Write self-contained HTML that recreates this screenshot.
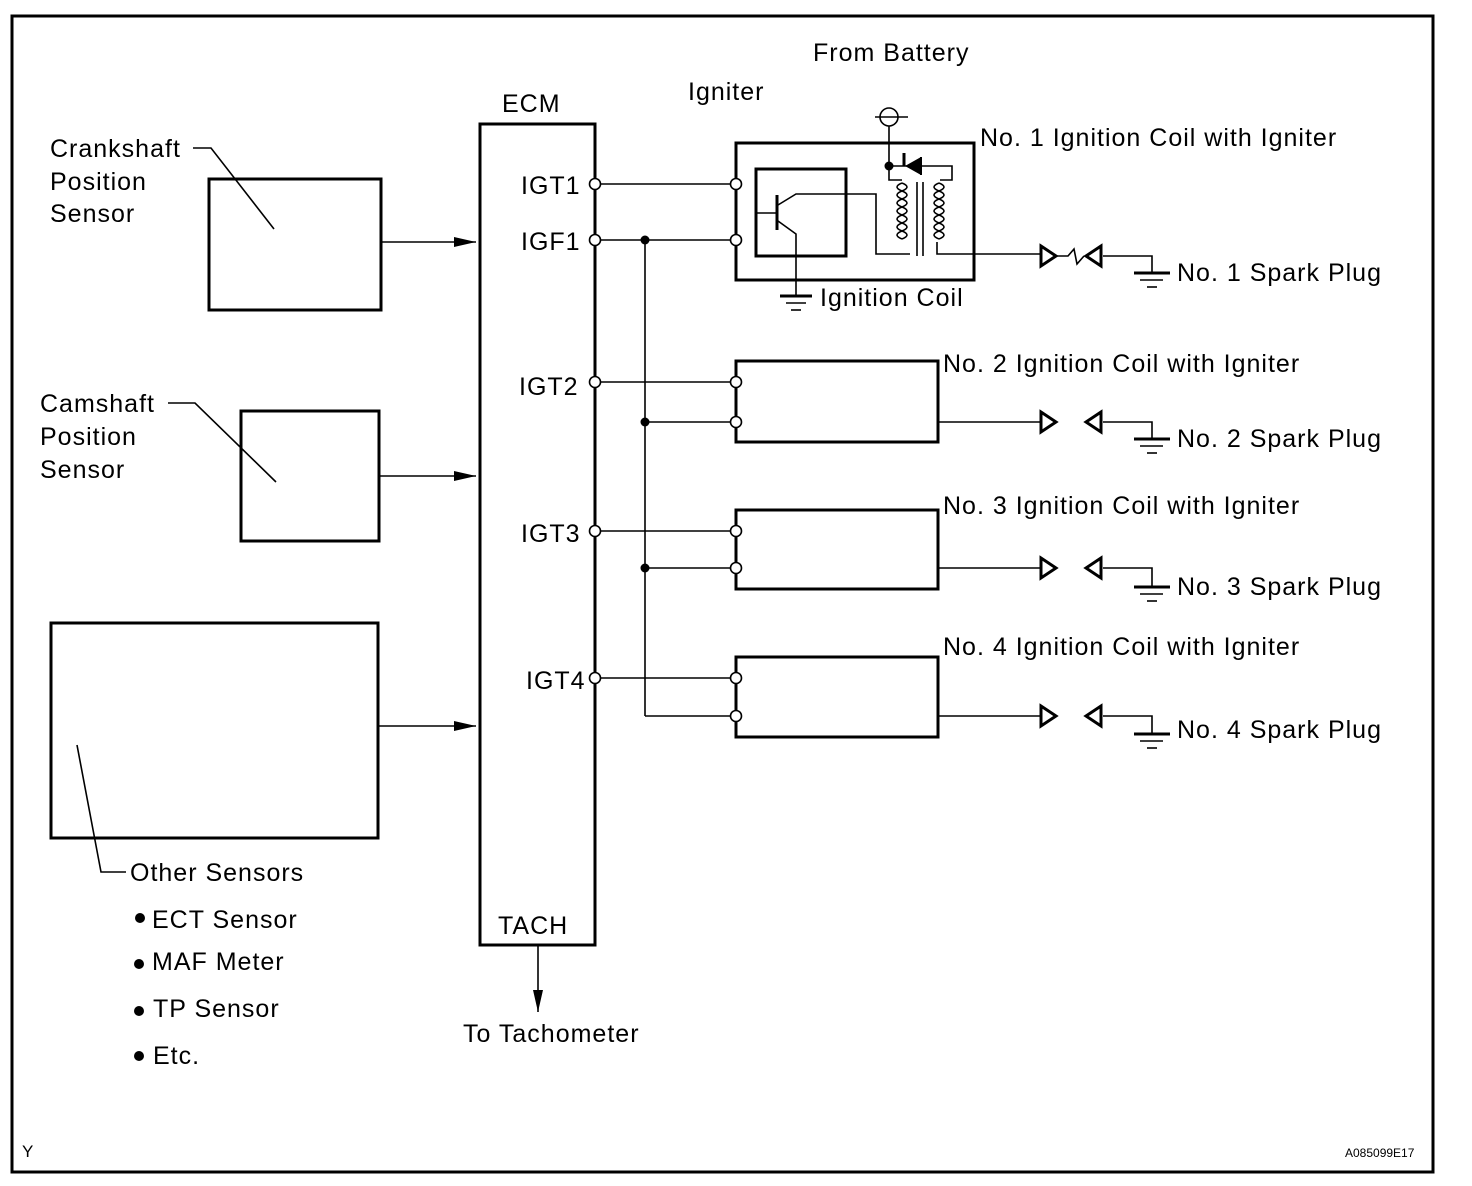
<!DOCTYPE html>
<html><head><meta charset="utf-8"><style>
html,body{margin:0;padding:0;background:#fff;}
svg{display:block;}
text{font-family:"Liberation Sans",Arial,sans-serif;font-size:25px;fill:#000;letter-spacing:1px;}
</style></head><body>
<svg width="1472" height="1186" viewBox="0 0 1472 1186" xmlns="http://www.w3.org/2000/svg">
<defs>
<marker id="ar" markerWidth="24" markerHeight="12" refX="22" refY="6" orient="auto" markerUnits="userSpaceOnUse">
<path d="M0,1 L22,6 L0,11 Z" fill="#000"/>
</marker>
</defs>
<rect x="12" y="16" width="1421" height="1156" fill="none" stroke="#000" stroke-width="3"/>
<g fill="none" stroke="#000">
<rect x="480" y="124" width="115" height="821" stroke-width="3"/>
<rect x="209" y="179" width="172" height="131" stroke-width="3"/>
<rect x="241" y="411" width="138" height="130" stroke-width="3"/>
<rect x="51" y="623" width="327" height="215" stroke-width="3"/>
<g stroke-width="1.6">
<line x1="381" y1="242" x2="476" y2="242" marker-end="url(#ar)"/>
<line x1="379" y1="476" x2="476" y2="476" marker-end="url(#ar)"/>
<line x1="378" y1="726" x2="476" y2="726" marker-end="url(#ar)"/>
<line x1="538" y1="945" x2="538" y2="1012" marker-end="url(#ar)"/>
<polyline points="193,148 211,148 274,229"/>
<polyline points="168,403 195,403 276,482"/>
<polyline points="77,745 101,872 126,872"/>
<line x1="599" y1="184" x2="732" y2="184"/>
<line x1="599" y1="240" x2="732" y2="240"/>
<line x1="599" y1="382" x2="732" y2="382"/>
<line x1="599" y1="531" x2="732" y2="531"/>
<line x1="599" y1="678" x2="732" y2="678"/>
<line x1="645" y1="240" x2="645" y2="716"/>
<line x1="645" y1="422" x2="732" y2="422"/>
<line x1="645" y1="568" x2="732" y2="568"/>
<line x1="645" y1="716" x2="732" y2="716"/>
</g>
<rect x="736" y="143" width="238" height="137" stroke-width="3"/>
<rect x="756" y="169" width="90" height="87" stroke-width="3"/>
<rect x="736" y="361" width="202" height="81" stroke-width="3"/>
<rect x="736" y="510" width="202" height="79" stroke-width="3"/>
<rect x="736" y="657" width="202" height="80" stroke-width="3"/>
<g stroke-width="1.6">
<line x1="777" y1="195" x2="777" y2="230" stroke-width="3"/>
<line x1="756" y1="213" x2="777" y2="213"/>
<polyline points="778,205 796,194 876,194 876,254 910,254"/>
<polyline points="778,221 796,234 796,296"/>
<line x1="875" y1="117" x2="908" y2="117"/>
<circle cx="889" cy="117" r="9"/>
<polyline points="889,126 889,166 952,166 952,180 940,180"/>
<polyline points="889,166 889,180 902,180"/>
<path d="M902,183 q-10,4 0,8 q-10,4 0,8 q-10,4 0,8 q-10,4 0,8 q-10,4 0,8 q-10,4 0,8 q-10,4 0,8"/>
<path d="M939,183 q10,4 0,8 q10,4 0,8 q10,4 0,8 q10,4 0,8 q10,4 0,8 q10,4 0,8 q10,4 0,8"/>
<path d="M902,183 q10,4 0,8 q10,4 0,8 q10,4 0,8 q10,4 0,8 q10,4 0,8 q10,4 0,8 q10,4 0,8"/>
<path d="M939,183 q-10,4 0,8 q-10,4 0,8 q-10,4 0,8 q-10,4 0,8 q-10,4 0,8 q-10,4 0,8 q-10,4 0,8"/>
<line x1="917" y1="182" x2="917" y2="256"/>
<line x1="923" y1="182" x2="923" y2="256"/>
<polyline points="937,242 937,254 1040,254"/>
<line x1="938" y1="422" x2="1040" y2="422"/>
<line x1="938" y1="568" x2="1040" y2="568"/>
<line x1="938" y1="716" x2="1040" y2="716"/>
<polyline points="1057,256 1068,256 1074,249 1077,264 1084,256"/>
</g>
<path d="M904,153 L904,166" stroke-width="3"/>
<path d="M905,166 L921,157 L921,175 Z" fill="#000" stroke="none"/>
<line x1="921" y1="157" x2="921" y2="175" stroke-width="2"/>
<line x1="780" y1="296" x2="812" y2="296" stroke-width="3"/>
<line x1="786" y1="303" x2="806" y2="303" stroke-width="1.6"/>
<line x1="791" y1="310" x2="801" y2="310" stroke-width="1.6"/>
</g>
<g fill="none" stroke="#000" stroke-width="3">
<path d="M1041,246 L1056,256 L1041,266 Z"/>
<path d="M1101,246 L1086,256 L1101,266 Z"/>
<path d="M1041,412 L1056,422 L1041,432 Z"/>
<path d="M1101,412 L1086,422 L1101,432 Z"/>
<path d="M1041,558 L1056,568 L1041,578 Z"/>
<path d="M1101,558 L1086,568 L1101,578 Z"/>
<path d="M1041,706 L1056,716 L1041,726 Z"/>
<path d="M1101,706 L1086,716 L1101,726 Z"/>
</g>
<g fill="none" stroke="#000" stroke-width="1.6">
<polyline points="1103,256 1152,256 1152,272"/>
<polyline points="1103,422 1152,422 1152,438"/>
<polyline points="1103,568 1152,568 1152,586"/>
<polyline points="1103,716 1152,716 1152,733"/>
</g>
<g stroke="#000">
<line x1="1134" y1="273" x2="1170" y2="273" stroke-width="3"/><line x1="1140" y1="280" x2="1163" y2="280" stroke-width="1.6"/><line x1="1147" y1="287" x2="1157" y2="287" stroke-width="1.6"/>
<line x1="1134" y1="439" x2="1170" y2="439" stroke-width="3"/><line x1="1140" y1="446" x2="1163" y2="446" stroke-width="1.6"/><line x1="1147" y1="453" x2="1157" y2="453" stroke-width="1.6"/>
<line x1="1134" y1="587" x2="1170" y2="587" stroke-width="3"/><line x1="1140" y1="594" x2="1163" y2="594" stroke-width="1.6"/><line x1="1147" y1="601" x2="1157" y2="601" stroke-width="1.6"/>
<line x1="1134" y1="734" x2="1170" y2="734" stroke-width="3"/><line x1="1140" y1="741" x2="1163" y2="741" stroke-width="1.6"/><line x1="1147" y1="748" x2="1157" y2="748" stroke-width="1.6"/>
</g>
<g fill="#fff" stroke="#000" stroke-width="1.6">
<circle cx="595" cy="184" r="5.5"/><circle cx="595" cy="240" r="5.5"/><circle cx="595" cy="382" r="5.5"/><circle cx="595" cy="531" r="5.5"/><circle cx="595" cy="678" r="5.5"/>
<circle cx="736" cy="184" r="5.5"/><circle cx="736" cy="240" r="5.5"/><circle cx="736" cy="382" r="5.5"/><circle cx="736" cy="422" r="5.5"/>
<circle cx="736" cy="531" r="5.5"/><circle cx="736" cy="568" r="5.5"/><circle cx="736" cy="678" r="5.5"/><circle cx="736" cy="716" r="5.5"/>
</g>
<g fill="#000">
<circle cx="645" cy="240" r="4.5"/><circle cx="645" cy="422" r="4.5"/><circle cx="645" cy="568" r="4.5"/><circle cx="889" cy="166" r="4.5"/>
<circle cx="140" cy="918" r="5"/><circle cx="139" cy="964" r="5"/><circle cx="139" cy="1011" r="5"/><circle cx="139" cy="1056" r="5"/>
</g>
<text x="813" y="61">From Battery</text>
<text x="688" y="100">Igniter</text>
<text x="502" y="112">ECM</text>
<text x="980" y="146">No. 1 Ignition Coil with Igniter</text>
<text x="50" y="157">Crankshaft</text>
<text x="50" y="190">Position</text>
<text x="50" y="222">Sensor</text>
<text x="521" y="194">IGT1</text>
<text x="521" y="250">IGF1</text>
<text x="1177" y="281">No. 1 Spark Plug</text>
<text x="820" y="306">Ignition Coil</text>
<text x="943" y="372">No. 2 Ignition Coil with Igniter</text>
<text x="519" y="395">IGT2</text>
<text x="40" y="412">Camshaft</text>
<text x="40" y="445">Position</text>
<text x="40" y="478">Sensor</text>
<text x="1177" y="447">No. 2 Spark Plug</text>
<text x="943" y="514">No. 3 Ignition Coil with Igniter</text>
<text x="521" y="542">IGT3</text>
<text x="1177" y="595">No. 3 Spark Plug</text>
<text x="943" y="655">No. 4 Ignition Coil with Igniter</text>
<text x="526" y="689">IGT4</text>
<text x="1177" y="738">No. 4 Spark Plug</text>
<text x="130" y="881">Other Sensors</text>
<text x="152" y="928">ECT Sensor</text>
<text x="152" y="970">MAF Meter</text>
<text x="153" y="1017">TP Sensor</text>
<text x="153" y="1064">Etc.</text>
<text x="498" y="934">TACH</text>
<text x="463" y="1042">To Tachometer</text>
<text x="22" y="1157" style="font-size:17px;letter-spacing:0">Y</text>
<text x="1345" y="1157" style="font-size:12px;letter-spacing:0">A085099E17</text>
</svg>
</body></html>
